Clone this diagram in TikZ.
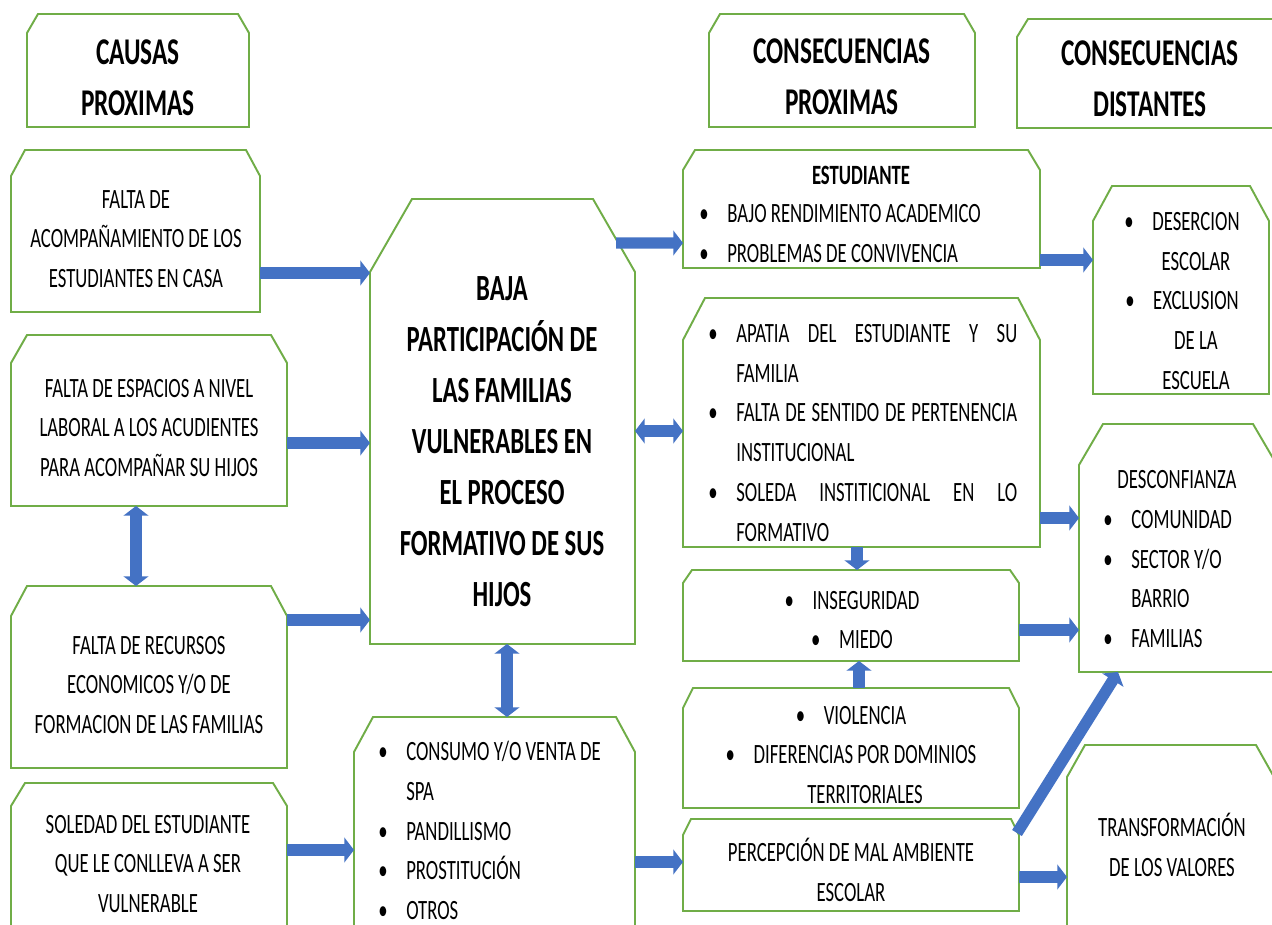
\documentclass[tikz,border=0pt]{standalone}
\usepackage{fontspec}
\setmainfont{Carlito}[FakeStretch=0.67]
\usetikzlibrary{arrows.meta,fit,calc}
\definecolor{boxgreen}{HTML}{70AD47}
\definecolor{arrowblue}{HTML}{4472C4}
\newlength\bi
\setlength\bi{15.9pt}
\newcommand\bul{\makebox[\bi][l]{\textbullet}}
\newcommand\itm[1]{\noindent\hangindent=\bi\hangafter=1\bul#1\par}
\tikzset{
  frame/.style={inner sep=0pt, outer sep=0pt},
  txt/.style={font=\fontsize{15.9}{22.6}\selectfont, inner sep=0pt, align=center},
  head/.style={font=\fontsize{21.5}{29}\selectfont\bfseries, inner sep=0pt, align=center},
  lst/.style={txt, anchor=north west, align=flush left, text width=#1},
  blk/.style={draw=arrowblue, line width=6.5pt, ->},
  dblk/.style={blk, <->}
}
\begin{document}
\begin{tikzpicture}[>={Triangle[length=5.5pt,width=14pt]}, x=0.02cm, y=-0.02cm]
\path[use as bounding box, fill=white] (0,0) rectangle (1272,925);
\clip (0,0) rectangle (1272,925);

% boxes
\node[frame, fit={(27,14) (249,127)}] (causas) {};
\node[frame, fit={(709,14) (975,127)}] (cprox) {};
\node[frame, fit={(1017,19) (1300,128)}] (cdist) {};
\node[frame, fit={(11,150) (260,312)}] (acomp) {};
\node[frame, fit={(11,335) (287,506)}] (espac) {};
\node[frame, fit={(11,586) (287,768)}] (recur) {};
\node[frame, fit={(11,783) (287,960)}] (soled) {};
\node[frame, fit={(370,199) (635,644)}] (central) {};
\node[frame, fit={(354,717) (635,960)}] (consumo) {};
\node[frame, fit={(683,150) (1040,268)}] (estud) {};
\node[frame, fit={(683,298) (1040,547)}] (apatia) {};
\node[frame, fit={(683,570) (1019,661)}] (inseg) {};
\node[frame, fit={(683,688) (1019,808)}] (viol) {};
\node[frame, fit={(683,819) (1019,911)}] (percep) {};
\node[frame, fit={(1093,186) (1269,394)}] (deser) {};
\node[frame, fit={(1079,424) (1277,672)}] (desconf) {};
\node[frame, fit={(1067,745) (1274,960)}] (transf) {};

\foreach \n/\cx/\cy in {causas/11/19, cprox/11/19, cdist/11/18, acomp/14/26, espac/16/28,
    recur/16/30, soled/14/23, central/42/73, consumo/19/35, estud/12/20, apatia/22/42,
    inseg/9/13, viol/10/20, percep/8/16, deser/19/35, desconf/24/41, transf/18/32}
  \draw[boxgreen, line width=1.1pt] ($(\n.north west)+(0,\cy)$) -- ($(\n.north west)+(\cx,0)$)
    -- ($(\n.north east)+(-\cx,0)$) -- ($(\n.north east)+(0,\cy)$) -- (\n.south east)
    -- (\n.south west) -- cycle;

% texts
\node[head] (causasT) at (138,78) {CAUSAS\\PROXIMAS};
\node[head] (cproxT) at (842,77) {CONSECUENCIAS\\PROXIMAS};
\node[head] (cdistT) at (1150,79) {CONSECUENCIAS\\DISTANTES};
\node[txt] (acompT) at (136,239) {FALTA DE\\ACOMPAÑAMIENTO DE LOS\\ESTUDIANTES EN CASA};
\node[txt] (espacT) at (149,428) {FALTA DE ESPACIOS A NIVEL\\LABORAL A LOS ACUDIENTES\\PARA ACOMPAÑAR SU HIJOS};
\node[txt] (recurT) at (149,685) {FALTA DE RECURSOS\\ECONOMICOS Y/O DE\\FORMACION DE LAS FAMILIAS};
\node[txt] (soledT) at (148,864) {SOLEDAD DEL ESTUDIANTE\\QUE LE CONLLEVA A SER\\VULNERABLE};
\node[head, font=\fontsize{21}{29}\selectfont\bfseries] (centralT) at (502,442) {BAJA\\PARTICIPACIÓN DE\\LAS FAMILIAS\\VULNERABLES EN\\EL PROCESO\\FORMATIVO DE SUS\\HIJOS};
\node[lst=5cm] (consumoL) at (378,741) {\itm{CONSUMO Y/O VENTA DE\newline SPA}\itm{PANDILLISMO}\itm{PROSTITUCIÓN}\itm{OTROS}};
\node[txt, font=\fontsize{15.9}{22.6}\selectfont\bfseries] (estudH) at (861,175) {ESTUDIANTE};
\node[lst=6.8cm] (estudL) at (699,204) {\itm{BAJO RENDIMIENTO ACADEMICO}\itm{PROBLEMAS DE CONVIVENCIA}};
\node[lst=6.18cm, align=justify] (apatiaL) at (708,324) {\itm{APATIA DEL ESTUDIANTE Y SU\linebreak FAMILIA}\itm{FALTA DE SENTIDO DE PERTENENCIA\linebreak INSTITUCIONAL}\itm{SOLEDA INSTITICIONAL EN LO\linebreak FORMATIVO}};
\node[txt] (insegT) at (852,620) {\bul INSEGURIDAD\\\bul MIEDO};
\node[txt] (violT) at (851,755) {\bul VIOLENCIA\\\bul DIFERENCIAS POR DOMINIOS\\\hspace*{\bi}TERRITORIALES};
\node[txt] (percepT) at (851,870) {PERCEPCIÓN DE MAL AMBIENTE\\ESCOLAR};
\node[txt] (deserT) at (1182,301) {\bul DESERCION\\\hspace*{\bi}ESCOLAR\\\bul EXCLUSION\\\hspace*{\bi}DE LA\\\hspace*{\bi}ESCUELA};
\node[txt] (desconfH) at (1177,480) {DESCONFIANZA};
\node[lst=3cm] (desconfL) at (1103,510) {\itm{COMUNIDAD}\itm{SECTOR Y/O\newline BARRIO}\itm{FAMILIAS}};
\node[txt] (transfT) at (1172,845) {TRANSFORMACIÓN\\DE LOS VALORES};

% arrows
\foreach \a/\b/\y in {acomp/central/273, espac/central/443, recur/central/620, soled/consumo/850,
    consumo/percep/862, estud/deser/260, apatia/desconf/518, inseg/desconf/630, percep/transf/877}
  \draw[blk] (\a.east |- 0,\y) -- (\b.west |- 0,\y);
\draw[blk] (central.north east) ++(-19,44) -- (estud.west |- 0,243);
\draw[dblk] (central.east |- 0,431) -- (apatia.west |- 0,431);
\draw[dblk] (136,0 |- espac.south) -- (136,0 |- recur.north);
\draw[dblk] (507,0 |- central.south) -- (507,0 |- consumo.north);
\draw[blk] (857,0 |- apatia.south) -- (857,0 |- inseg.north);
\draw[blk] (859,0 |- viol.north) -- (859,0 |- inseg.south);
\draw[blk] (percep.north east) ++(-2,14) -- ($(desconf.south west)+(39,0)$);
\end{tikzpicture}
\end{document}
